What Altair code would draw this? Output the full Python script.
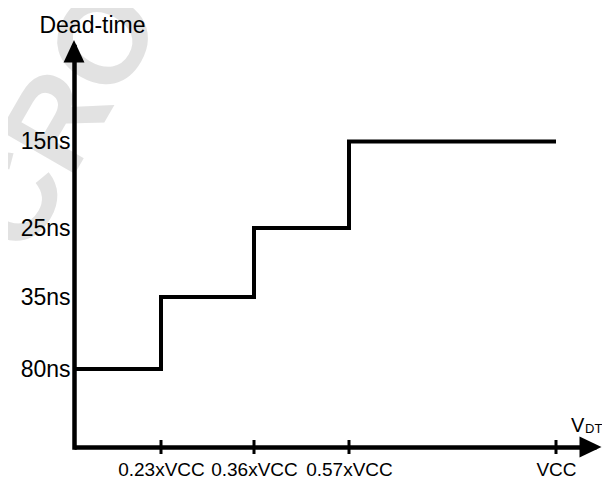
import altair as alt
import pandas as pd

# ---- data ----
tick_values = [0.23, 0.36, 0.57, 1.0]
tick_labels = ["0.23xVCC", "0.36xVCC", "0.57xVCC", "VCC"]
step_x = [0.0, 0.23, 0.36, 0.57, 1.0]
step_ns = [80, 35, 25, 15, 15]
level_values = [15, 25, 35, 80]
level_labels = ["15ns", "25ns", "35ns", "80ns"]
X_END = 1.1      # end of the V_DT arrow
Y_TOP = 0        # end of the Dead-time arrow
Y_BOTTOM = 100   # where the V_DT axis sits

FONT = "Liberation Sans"

# non-proportional (schematic) axes -> piecewise linear scales
x_scale = alt.Scale(domain=[0, 0.23, 0.36, 0.57, 1.0, X_END],
                    range=[0, 87, 180, 275, 482, 522], zero=False, nice=False)
y_scale = alt.Scale(domain=[Y_TOP, 15, 25, 35, 80, Y_BOTTOM],
                    range=[6.5, 101.5, 188, 257, 329, 407], zero=False, nice=False)


def label_expr(values, labels):
    expr = "''"
    for v, l in reversed(list(zip(values, labels))):
        expr = f"datum.value == {v} ? '{l}' : ({expr})"
    return expr


x_axis = alt.Axis(values=tick_values, labelExpr=label_expr(tick_values, tick_labels),
                  title=None, domainColor="black", domainWidth=4.5, ticks=False, tickSize=0,
                  labelFontSize=19, labelColor="black", labelPadding=28,
                  labelBaseline="alphabetic", labelFont=FONT,
                  labelOverlap=False, labelFlush=False, grid=False, zindex=1)
y_axis = alt.Axis(values=level_values, labelExpr=label_expr(level_values, level_labels),
                  title="Dead-time", titleAngle=0, titleX=18, titleY=-8, titleAlign="center",
                  titleBaseline="alphabetic", titleFontSize=23, titleFontWeight="normal",
                  titleColor="black", titleFont=FONT,
                  domainColor="black", domainWidth=4.5, domainCap="square",
                  ticks=False, tickSize=0, labelFontSize=23, labelColor="black",
                  labelPadding=4, labelBaseline="middle", labelFont=FONT,
                  labelOverlap=False, grid=False, zindex=1)

X = alt.X("x:Q", scale=x_scale, axis=x_axis)
Y = alt.Y("y:Q", scale=y_scale, axis=y_axis)

step_df = pd.DataFrame({"x": step_x, "y": step_ns})
tick_df = pd.DataFrame({"x": tick_values})
xarrow_df = pd.DataFrame({"x": [X_END], "y": [Y_BOTTOM]})
yarrow_df = pd.DataFrame({"x": [0.0], "y": [Y_TOP]})

watermark = alt.Chart(pd.DataFrame({"t": ["CRO"]})).mark_text(
    fontSize=125, fontWeight="bold", color="#e2e2e2", angle=300,
    align="center", baseline="middle", font=FONT
).encode(text="t:N", x=alt.value(-12), y=alt.value(80))

step = alt.Chart(step_df).mark_line(
    interpolate="step-after", color="black", strokeWidth=4, strokeJoin="miter", strokeCap="butt"
).encode(x=X, y=Y)

ticks = alt.Chart(tick_df).mark_rule(color="black", strokeWidth=3).encode(
    x=X, y=alt.value(400), y2=alt.value(414))

xarrow = alt.Chart(xarrow_df).mark_point(
    filled=True, opacity=1, color="black", size=484,
    shape="M0.5,0L-1.5,-0.95L-1.5,0.95Z"
).encode(x=X, y=Y)

yarrow = alt.Chart(yarrow_df).mark_point(
    filled=True, opacity=1, color="black", size=484,
    shape="M0,-0.6L0.95,1.45L-0.95,1.45Z"
).encode(x=X, y=Y)

v_text = alt.Chart(pd.DataFrame({"t": ["V"]})).mark_text(
    fontSize=20, color="black", align="left", baseline="alphabetic", font=FONT
).encode(text="t:N", x=alt.value(497), y=alt.value(392))
dt_text = alt.Chart(pd.DataFrame({"t": ["DT"]})).mark_text(
    fontSize=13, color="black", align="left", baseline="alphabetic", font=FONT
).encode(text="t:N", x=alt.value(511), y=alt.value(393))

chart = alt.layer(watermark, step, ticks, xarrow, yarrow, v_text, dt_text).properties(
    width=528, height=407,
    autosize=alt.AutoSizeParams(type="none"),
    padding={"left": 66, "top": 32, "right": 0, "bottom": 31},
).configure(font=FONT, background="white").configure_view(stroke=None)

chart.save("out.html", embed_options={"renderer": "svg", "actions": False})
